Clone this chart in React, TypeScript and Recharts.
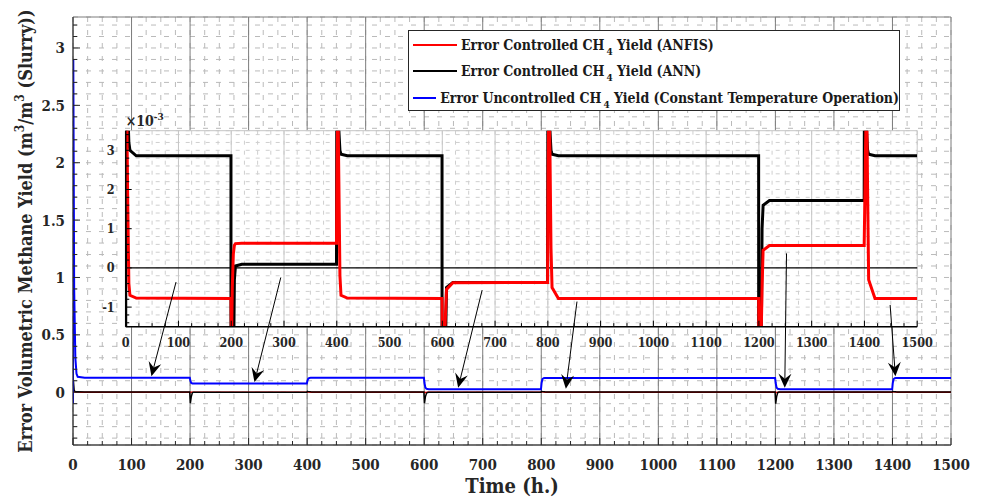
import React from "react";
import {
  LineChart,
  Line,
  XAxis,
  YAxis,
  CartesianGrid,
  Legend,
  ReferenceLine,
} from "recharts";

const FONT = '"DejaVu Serif Condensed", "DejaVu Serif", serif';
const INK = "#262626";

// simulation time (h.)
const time = [
  0, 0.5, 2, 4, 6, 8, 20,
  199.5, 200.5, 202, 204, 206, 208, 220,
  399.5, 400.5, 402, 404, 406, 408, 420,
  599.5, 600.5, 602, 604, 606, 608, 620,
  799.5, 800.5, 802, 804, 806, 808, 820,
  1199.5, 1200.5, 1202, 1204, 1206, 1208, 1220,
  1399.5, 1400.5, 1402, 1404, 1406, 1408, 1420,
  1500,
];

// controlled errors in 1e-3 m3/m3
const anfisErr = [
  8, 6, 4, 1.5, -0.4, -0.7, -0.77,
  -0.78, -2.0, -0.5, 0.35, 0.58, 0.62, 0.63,
  0.63, 2.5, 4.5, 2.2, -0.2, -0.7, -0.77,
  -0.78, -2.5, -3, -2, -1.2, -0.55, -0.38,
  -0.37, 2.5, 4.5, 3.0, 0.5, -0.5, -0.78,
  -0.78, -2.5, -3, -2, -0.5, 0.45, 0.57,
  0.57, 1.5, 3.0, 4.5, 2.0, -0.3, -0.78,
  -0.78,
];
const annErr = [
  -20, 110, 15, 4, 3.2, 3.0, 2.86,
  2.86, -95, -40, -3, -0.3, 0.05, 0.09,
  0.09, 8, 5, 3.5, 3.0, 2.9, 2.86,
  2.86, -95, -40, -8, -2, -0.5, -0.37,
  -0.37, 8, 5, 3.5, 3.0, 2.9, 2.86,
  2.86, -100, -40, -3, 1.0, 1.6, 1.72,
  1.72, 8, 5, 3.5, 3.0, 2.9, 2.86,
  2.86,
];
// constant temperature run, m3/m3
const uncontrolledErr = [
  -0.1, 2.9, 0.9, 0.3, 0.16, 0.135, 0.127,
  0.127, 0.1, 0.08, 0.076, 0.075, 0.075, 0.075,
  0.075, 0.1, 0.12, 0.124, 0.125, 0.125, 0.125,
  0.125, 0.08, 0.04, 0.03, 0.027, 0.026, 0.026,
  0.026, 0.08, 0.115, 0.122, 0.123, 0.123, 0.123,
  0.123, 0.08, 0.04, 0.03, 0.027, 0.026, 0.026,
  0.026, 0.08, 0.115, 0.122, 0.123, 0.123, 0.123,
  0.123,
];

const seriesNames = [
  { pre: "Error Controlled CH", sub: "4", post: " Yield (ANFIS)" },
  { pre: "Error Controlled CH", sub: "4", post: " Yield (ANN)" },
  { pre: "Error Uncontrolled CH", sub: "4", post: " Yield (Constant Temperature Operation)" },
];
const seriesColors = ["#ff0000", "#000000", "#0000ff"];

const xTickLabels = [0, 100, 200, 300, 400, 500, 600, 700, 800, 900, 1000, 1100, 1200, 1300, 1400, 1500];
const yTickLabels = [0, 0.5, 1, 1.5, 2, 2.5, 3];
const insetYTickLabels = [-1, 0, 1, 2, 3];

const xMinorTicks = Array.from({ length: 61 }, (_, i) => i * 25);
const yMinorTicks = Array.from({ length: 37 }, (_, i) => (i - 4) / 10);
const insetYMinorTicks = Array.from({ length: 25 }, (_, i) => (2 * i - 14) / 10);

// callout arrows from the zoomed view down to the main curves
const arrowTails = [
  { x: 176, y: 0.96 },
  { x: 355, y: 1.0 },
  { x: 699, y: 0.89 },
  { x: 861, y: 0.79 },
  { x: 1219, y: 1.21 },
  { x: 1396, y: 0.76 },
];
const arrowTips = [
  { x: 134, y: 0.14 },
  { x: 310, y: 0.088 },
  { x: 658, y: 0.04 },
  { x: 842, y: 0.03 },
  { x: 1216, y: 0.04 },
  { x: 1405, y: 0.14 },
];

const rows = time.map((t, i) => ({
  t,
  anfis: anfisErr[i],
  ann: annErr[i],
  uncontrolled: uncontrolledErr[i],
}));

const isMult = (v: number, step: number) =>
  Math.abs(v / step - Math.round(v / step)) < 1e-6;
const fmt = (v: number) => String(Math.round(v * 10) / 10);

type Side = "bottom" | "top" | "left" | "right";

// MATLAB-style inward ticks, label only on major ones
const tickMaker =
  (
    side: Side,
    isMajor: (v: number) => boolean,
    lens: [number, number],
    color: string,
    label?: (x: number, y: number, v: number) => React.ReactNode
  ) =>
  (props: any) => {
    const { x, y, payload } = props;
    const v = payload.value;
    const major = isMajor(v);
    const len = major ? lens[0] : lens[1];
    let x2 = x;
    let y2 = y;
    if (side === "bottom") y2 = y - len;
    if (side === "top") y2 = y + len;
    if (side === "left") x2 = x + len;
    if (side === "right") x2 = x - len;
    return (
      <g>
        <line x1={x} y1={y} x2={x2} y2={y2} stroke={color} strokeWidth={1} />
        {major && label ? label(x, y, v) : null}
      </g>
    );
  };

const tickText = { fontFamily: FONT, fontWeight: 700, fill: INK } as const;

const mainBottomTick = tickMaker("bottom", (v) => isMult(v, 100), [7, 4], INK, (x, y, v) => (
  <text x={x} y={y + 25} textAnchor="middle" fontSize={15} {...tickText}>
    {v}
  </text>
));
const mainTopTick = tickMaker("top", (v) => isMult(v, 100), [7, 4], INK);
const mainLeftTick = tickMaker("left", (v) => isMult(v, 0.5), [7, 4], INK, (x, y, v) => (
  <text x={x - 8} y={y + 5.5} textAnchor="end" fontSize={15} {...tickText}>
    {fmt(v)}
  </text>
));
const mainRightTick = tickMaker("right", (v) => isMult(v, 0.5), [7, 4], INK);

const insetBottomTick = tickMaker("bottom", (v) => isMult(v, 100), [6, 3.5], "#000", (x, y, v) => (
  <text x={x} y={y + 20.5} textAnchor="middle" fontSize={12.5} {...tickText}>
    {v}
  </text>
));
const insetTopTick = tickMaker("top", (v) => isMult(v, 100), [6, 3.5], "#000");
const insetLeftTick = tickMaker("left", (v) => isMult(v, 1), [6, 3.5], "#000", (x, y, v) => (
  <text x={x - 11} y={y + 4.5} textAnchor="end" fontSize={12.5} {...tickText}>
    {v}
  </text>
));
const insetRightTick = tickMaker("right", (v) => isMult(v, 1), [6, 3.5], "#000");

const XTitle = (props: any) => {
  const { x, y, width } = props.viewBox;
  return (
    <text x={x + width / 2} y={y + 48} textAnchor="middle" fontSize={20} {...tickText}>
      Time (h.)
    </text>
  );
};

const YTitle = (props: any) => {
  const { y, height } = props.viewBox;
  return (
    <text
      transform={`translate(32, ${y + height / 2}) rotate(-90)`}
      textAnchor="middle"
      fontSize={18}
      {...tickText}
    >
      Error Volumetric Methane Yield (m
      <tspan dy={-8} fontSize={12}>3</tspan>
      <tspan dy={8}>/m</tspan>
      <tspan dy={-8} fontSize={12}>3</tspan>
      <tspan dy={8}> (Slurry))</tspan>
    </text>
  );
};

const ScaleNote = (props: any) => {
  const { x, y, width } = props.viewBox;
  return (
    <text x={x + width} y={y - 5} fontSize={14} {...tickText}>
      ×10
      <tspan dy={-6} fontSize={10}>-3</tspan>
    </text>
  );
};

const LegendBox = () => (
  <div
    style={{
      background: "#fff",
      border: `1px solid ${INK}`,
      width: 492,
      height: 81,
      paddingTop: 1,
      boxSizing: "border-box",
      fontFamily: FONT,
      fontWeight: 700,
      fontSize: 14,
      color: "#1a1a1a",
    }}
  >
    {seriesNames.map((n, i) => (
      <div key={i} style={{ display: "flex", alignItems: "center", height: 26.3 }}>
        <div style={{ marginLeft: 4, width: 44, height: 2, background: seriesColors[i] }} />
        <div style={{ marginLeft: 4, whiteSpace: "nowrap" }}>
          {n.pre}
          <span style={{ fontSize: 10, position: "relative", top: 5, marginLeft: 2 }}>{n.sub}</span>
          {n.post}
        </div>
      </div>
    ))}
  </div>
);

const ArrowShape = (props: any) => {
  const { x1, y1, x2, y2 } = props;
  if ([x1, y1, x2, y2].some((v) => typeof v !== "number" || Number.isNaN(v))) return <g />;
  const ang = Math.atan2(y2 - y1, x2 - x1);
  const ux = Math.cos(ang);
  const uy = Math.sin(ang);
  const L = 14;
  const W = 6.5;
  const N = 9;
  const bx = x2 - L * ux;
  const by = y2 - L * uy;
  const pts = [
    [x2, y2],
    [bx - W * uy, by + W * ux],
    [x2 - N * ux, y2 - N * uy],
    [bx + W * uy, by - W * ux],
  ]
    .map((p) => p.join(","))
    .join(" ");
  return (
    <g>
      <line x1={x1} y1={y1} x2={x2 - N * ux} y2={y2 - N * uy} stroke="#000" strokeWidth={1} />
      <polygon points={pts} fill="#000" />
    </g>
  );
};

const MAIN_X: [number, number] = [0, 1500];
const MAIN_Y: [number, number] = [-0.46, 3.27];
const INSET_Y: [number, number] = [-1.5, 3.5];

export default function App() {
  return (
    <div style={{ position: "absolute", left: 0, top: 0, width: 986, height: 499, background: "#fff", overflow: "hidden" }}>
      <div style={{ position: "absolute", left: 0, top: 0 }}>
        <LineChart width={986} height={499} data={rows} margin={{ top: 17, right: 35, bottom: 0, left: 0 }}>
          <CartesianGrid stroke="#bababa" strokeDasharray="5 8" />
          <CartesianGrid xAxisId="xMaj" yAxisId="yMaj" stroke="#7d7d7d" />
          <XAxis
            dataKey="t"
            type="number"
            domain={MAIN_X}
            ticks={xMinorTicks}
            interval={0}
            tickSize={0}
            tickMargin={0}
            tickLine={false}
            height={54}
            axisLine={{ stroke: INK }}
            tick={mainBottomTick}
            label={XTitle}
            allowDataOverflow
          />
          <XAxis xAxisId="xMaj" dataKey="t" type="number" domain={MAIN_X} ticks={xTickLabels} interval={0} hide />
          <XAxis
            xAxisId="top"
            orientation="top"
            dataKey="t"
            type="number"
            domain={MAIN_X}
            ticks={xMinorTicks}
            interval={0}
            tickSize={0}
            tickMargin={0}
            tickLine={false}
            height={0}
            axisLine={{ stroke: INK }}
            tick={mainTopTick}
          />
          <YAxis
            type="number"
            domain={MAIN_Y}
            ticks={yMinorTicks}
            interval={0}
            tickSize={0}
            tickMargin={0}
            tickLine={false}
            width={73}
            axisLine={{ stroke: INK }}
            tick={mainLeftTick}
            label={YTitle}
            allowDataOverflow
          />
          <YAxis yAxisId="yMaj" type="number" domain={MAIN_Y} ticks={yTickLabels} interval={0} hide />
          <YAxis
            yAxisId="right"
            orientation="right"
            type="number"
            domain={MAIN_Y}
            ticks={yMinorTicks}
            interval={0}
            tickSize={0}
            tickMargin={0}
            tickLine={false}
            width={0}
            axisLine={{ stroke: INK }}
            tick={mainRightTick}
          />
          <Legend
            layout="vertical"
            align="center"
            verticalAlign="middle"
            content={LegendBox}
            wrapperStyle={{ left: 408, top: 30, width: 494 }}
          />
          <Line
            dataKey={(d: any) => d.anfis / 1000}
            stroke={seriesColors[0]}
            strokeWidth={1.5}
            dot={false}
            isAnimationActive={false}
          />
          <Line
            dataKey={(d: any) => d.ann / 1000}
            stroke={seriesColors[1]}
            strokeWidth={1.5}
            dot={false}
            isAnimationActive={false}
          />
          <Line
            dataKey="uncontrolled"
            stroke={seriesColors[2]}
            strokeWidth={2}
            dot={false}
            isAnimationActive={false}
          />
        </LineChart>
      </div>

      {/* zoomed view, x1e-3 */}
      <div style={{ position: "absolute", left: 90, top: 110 }}>
        <LineChart width={860} height={250} data={rows} margin={{ top: 20.7, right: 32.8, bottom: 0, left: 0 }}>
          <CartesianGrid fill="#fff" stroke="#cfcfcf" strokeDasharray="4 6" />
          <CartesianGrid xAxisId="xMaj" yAxisId="yMaj" stroke="#c6c6c6" />
          <XAxis
            dataKey="t"
            type="number"
            domain={MAIN_X}
            ticks={xMinorTicks}
            interval={0}
            tickSize={0}
            tickMargin={0}
            tickLine={false}
            height={33.3}
            axisLine={{ stroke: "#000", strokeWidth: 1.5 }}
            tick={insetBottomTick}
            allowDataOverflow
          />
          <XAxis xAxisId="xMaj" dataKey="t" type="number" domain={MAIN_X} ticks={xTickLabels} interval={0} hide />
          <XAxis
            xAxisId="top"
            orientation="top"
            dataKey="t"
            type="number"
            domain={MAIN_X}
            ticks={xMinorTicks}
            interval={0}
            tickSize={0}
            tickMargin={0}
            tickLine={false}
            height={0}
            axisLine={{ stroke: "#000", strokeWidth: 1.5 }}
            tick={insetTopTick}
          />
          <YAxis
            type="number"
            domain={INSET_Y}
            ticks={insetYMinorTicks}
            interval={0}
            tickSize={0}
            tickMargin={0}
            tickLine={false}
            width={35.7}
            axisLine={{ stroke: "#000", strokeWidth: 1.5 }}
            tick={insetLeftTick}
            label={ScaleNote}
            allowDataOverflow
          />
          <YAxis yAxisId="yMaj" type="number" domain={INSET_Y} ticks={insetYTickLabels} interval={0} hide />
          <YAxis
            yAxisId="right"
            orientation="right"
            type="number"
            domain={INSET_Y}
            ticks={insetYMinorTicks}
            interval={0}
            tickSize={0}
            tickMargin={0}
            tickLine={false}
            width={0}
            axisLine={{ stroke: "#000", strokeWidth: 1.5 }}
            tick={insetRightTick}
          />
          <ReferenceLine y={0} stroke="#000" strokeWidth={1.2} />
          <Line dataKey="ann" stroke={seriesColors[1]} strokeWidth={3} dot={false} isAnimationActive={false} />
          <Line
            dataKey="anfis"
            stroke={seriesColors[0]}
            strokeWidth={3}
            dot={false}
            isAnimationActive={false}
            {...({ zIndex: 450 } as any)}
          />
        </LineChart>
      </div>

      {/* callout arrows on top of everything */}
      <div style={{ position: "absolute", left: 0, top: 0, pointerEvents: "none" }}>
        <LineChart width={986} height={499} data={rows} margin={{ top: 17, right: 35, bottom: 54, left: 73 }}>
          <XAxis dataKey="t" type="number" domain={MAIN_X} hide />
          <YAxis type="number" domain={MAIN_Y} hide />
          <Line dataKey="uncontrolled" stroke="none" strokeWidth={0} dot={false} isAnimationActive={false} />
          {arrowTails.map((a, i) => (
            <ReferenceLine
              key={i}
              segment={[a, arrowTips[i]]}
              stroke="#000"
              shape={ArrowShape}
              ifOverflow="visible"
            />
          ))}
        </LineChart>
      </div>
    </div>
  );
}
